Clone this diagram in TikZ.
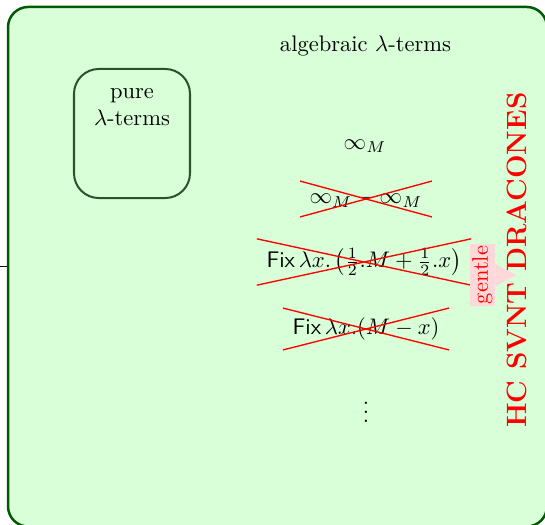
\documentclass[tikz,border=0pt]{standalone}
\usepackage{amsmath}
\usetikzlibrary{shapes.misc,calc}
\definecolor{innergreen}{RGB}{45,80,45}
\begin{document}
\begin{tikzpicture}[x=0.444pt,y=-0.444pt,
  outerbox/.style={draw=green!35!black, line width=1.1pt, fill=green!15, rounded corners=9pt,
    minimum width=239.3pt, minimum height=230.7pt, inner sep=0pt},
  innerbox/.style={draw=innergreen, line width=0.9pt, rounded corners=11pt,
    minimum width=51.5pt, minimum height=57.3pt, inner sep=0pt},
  struck/.style={cross out, draw=red, line width=0.6pt, inner sep=4pt},
  gentlebox/.style={rotate=90, fill=red!15, text=red, inner sep=1pt},
  dragonlabel/.style={rotate=90, text=red, font=\fontsize{12.4}{15}\selectfont\bfseries, inner sep=0pt}]
\useasboundingbox (0,0) rectangle (545,525);
\node[outerbox] (outer) at (277.5,266.75) {};
\coordinate (ext) at (-20,266.75);
\draw (outer.west) -- (ext);
\node (alg) at (365.5,46) {algebraic $\lambda$-terms};
\node[innerbox] (pure) at (132,133.5) {};
\node[align=center] (puretxt) at (132,107) {pure\\$\lambda$-terms};
\node (inf) at (365,146) {$\infty_M$};
\node[struck] (diff) at (366,199) {$\infty_M-\infty_M$};
\node[struck] (half) at (364,262) {$\textsf{Fix}\,\lambda x.\left(\tfrac12.M+\tfrac12.x\right)$};
\node[struck] (minus) at (366,329) {$\textsf{Fix}\,\lambda x.(M-x)$};
\node (dots) at (366,406) {$\vdots$};
\node[gentlebox] (gentle) at (482.5,275) {gentle};
\coordinate (tip) at (516.7,275);
\fill[red!15] ($(gentle.south)+(0,-11)$) -- (tip) -- ($(gentle.south)+(0,11)$) -- cycle;
\node[dragonlabel] (dragons) at (517,260) {HC SVNT DRACONES};
\end{tikzpicture}
\end{document}
